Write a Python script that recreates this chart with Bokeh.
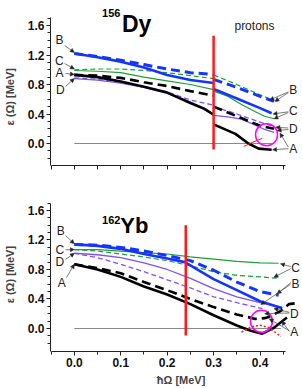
import math
from bokeh.plotting import figure
from bokeh.models import Label, Arrow, NormalHead, FixedTicker, Range1d, PrintfTickFormatter
from bokeh.layouts import column
from bokeh.embed import file_html
from bokeh.resources import INLINE

nan = float("nan")

# ---------------- 156Dy (top panel) ----------------
dy_red_x = 0.30
dy_red_y = [-0.08, 1.46]

dy_B_dash_x = [0.0, 0.05, 0.10, 0.15, 0.20, 0.25, 0.30, nan, 0.30, 0.35, 0.40, 0.43]
dy_B_dash_y = [1.22, 1.18, 1.13, 1.07, 1.01, 0.96, 0.935, nan, 0.87, 0.76, 0.64, 0.57]
dy_B_sol_x = [0.0, 0.05, 0.10, 0.15, 0.20, 0.25, 0.30, nan, 0.30, 0.35, 0.40, 0.425]
dy_B_sol_y = [1.22, 1.17, 1.11, 1.03, 0.93, 0.86, 0.82, nan, 0.74, 0.61, 0.48, 0.41]
dy_C_dash_x = [0.0, 0.05, 0.10, 0.15, 0.20, 0.25, 0.30, nan, 0.30, 0.35, 0.40, 0.427]
dy_C_dash_y = [1.00, 1.01, 1.01, 0.99, 0.96, 0.92, 0.88, nan, 0.93, 0.80, 0.66, 0.59]
dy_C_sol_x = [0.0, 0.05, 0.10, 0.15, 0.20, 0.25, 0.30, nan, 0.30, 0.33, 0.36, 0.39, 0.41, 0.43]
dy_C_sol_y = [0.99, 0.98, 0.96, 0.90, 0.85, 0.80, 0.73, nan, 0.71, 0.64, 0.53, 0.43, 0.37, 0.335]
dy_A_dash_x = [0.0, 0.05, 0.10, 0.15, 0.20, 0.25, 0.30, nan, 0.30, 0.35, 0.40, 0.43]
dy_A_dash_y = [0.93, 0.92, 0.89, 0.83, 0.78, 0.71, 0.65, nan, 0.50, 0.37, 0.24, 0.20]
dy_A_sol_x = [0.0, 0.05, 0.10, 0.15, 0.20, 0.25, 0.28, 0.30, nan, 0.30, 0.347, 0.375, 0.397, 0.425]
dy_A_sol_y = [0.93, 0.90, 0.84, 0.77, 0.69, 0.55, 0.47, 0.39, nan, 0.26, 0.13, 0.0, -0.07, -0.085]
dy_D_sol_x = [0.0, 0.05, 0.10, 0.15, 0.20, 0.25, 0.28, 0.30, nan, 0.30, 0.33, 0.36, 0.39, 0.41, 0.43]
dy_D_sol_y = [0.88, 0.86, 0.82, 0.76, 0.68, 0.56, 0.48, 0.40, nan, 0.38, 0.36, 0.33, 0.25, 0.19, 0.15]
dy_D_dash_x = [0.0, 0.05, 0.10, 0.15, 0.20, 0.25, 0.30, nan, 0.30, 0.35, 0.40, 0.43]
dy_D_dash_y = [0.89, 0.87, 0.83, 0.77, 0.70, 0.59, 0.52, nan, 0.50, 0.40, 0.29, 0.23]
dy_red_arc_x = [0.365, 0.385, 0.405]
dy_red_arc_y = [-0.04, 0.02, 0.07]
dy_circle = (0.414, 0.12)
dy_zero_x = [0.0, 0.43]

# ---------------- 162Yb (bottom panel) ----------------
yb_red_x = 0.24
yb_red_y = [-0.095, 1.40]
yb_x = [0.0, 0.05, 0.10, 0.15, 0.20, 0.25, 0.30, 0.35, 0.40, 0.44]
yb_B_dash_y = [1.14, 1.13, 1.10, 1.05, 0.99, 0.92, 0.79, 0.63, 0.50, 0.45]
yb_B_sol_x = [0.0, 0.05, 0.10, 0.15, 0.20, 0.238, 0.30, 0.35, 0.40, 0.448]
yb_B_sol_y = [1.14, 1.12, 1.08, 1.01, 0.95, 0.90, 0.67, 0.52, 0.37, 0.275]
yb_C_sol_y = [1.07, 1.07, 1.05, 1.03, 1.01, 0.97, 0.94, 0.91, 0.89, 0.885]
yb_C_dash_y = [1.07, 1.05, 1.01, 0.97, 0.92, 0.85, 0.77, 0.72, 0.70, 0.68]
yb_D_sol_x = [0.0, 0.05, 0.10, 0.15, 0.20, 0.25, 0.30, 0.35, 0.40, 0.447]
yb_D_sol_y = [1.02, 1.00, 0.96, 0.89, 0.80, 0.68, 0.54, 0.43, 0.35, 0.29]
yb_D_dash_x = [0.0, 0.05, 0.10, 0.15, 0.20, 0.25, 0.30, 0.35, 0.405]
yb_D_dash_y = [1.02, 0.96, 0.87, 0.77, 0.66, 0.55, 0.43, 0.35, 0.27]
yb_A_dash_x = [0.0, 0.05, 0.10, 0.15, 0.20, 0.25, 0.30, 0.35, 0.39, 0.41, 0.42, 0.445, 0.462, 0.485]
yb_A_dash_y = [0.87, 0.82, 0.75, 0.63, 0.52, 0.40, 0.29, 0.19, 0.13, 0.14, 0.16, 0.24, 0.33, 0.35]
yb_A_sol_x = [0.0, 0.05, 0.10, 0.15, 0.20, 0.25, 0.30, 0.35, 0.38, 0.405, 0.43, 0.458]
yb_A_sol_y = [0.87, 0.80, 0.70, 0.57, 0.46, 0.33, 0.18, 0.04, -0.03, -0.07, 0.01, 0.15]
yb_red_arc_x = [0.36, 0.38, 0.40, 0.42, 0.445]
yb_red_arc_y = [-0.05, 0.02, 0.045, 0.01, -0.11]
yb_circle = (0.403, 0.097)
yb_zero_x = [0.0, 0.445]

x_ticks = [0.0, 0.1, 0.2, 0.3, 0.4]
x_minor = [-0.05, 0.05, 0.15, 0.25, 0.35, 0.45]
y_ticks = [0.0, 0.4, 0.8, 1.2, 1.6]
y_minor = [round(-0.2 + 0.1 * i, 2) for i in range(20)]

BLUE = "#1434ff"
GREEN = "#1f9e3a"
PURPLE = "#7f52f2"
RED = "#ff1a1a"
MAG = "#ff00ff"
FONT = "Liberation Sans"
NBSP = "\u00a0"

X_RANGE = (-0.05128, 0.49145)
X_BOUNDS = (-0.05, 0.455)


def base_fig(height, border_bottom, y_range, y_bounds, top_panel, ylab_pad):
    p = figure(width=302, height=height, x_range=Range1d(*X_RANGE), y_range=Range1d(*y_range),
               output_backend="svg", toolbar_location=None,
               min_border_left=48, min_border_right=0,
               min_border_top=0, min_border_bottom=border_bottom)
    p.outline_line_color = None
    p.grid.visible = False
    p.background_fill_color = "white"
    p.border_fill_color = "white"
    for ax in (p.xaxis[0], p.yaxis[0]):
        ax.axis_line_color = "#222222"
        ax.major_tick_line_color = "#222222"
        ax.minor_tick_line_color = "#222222"
        ax.major_tick_in = 0
        ax.major_tick_out = 4
        ax.minor_tick_in = 0
        ax.minor_tick_out = 3
        ax.major_label_text_font = FONT
        ax.major_label_text_font_style = "bold"
        ax.major_label_text_font_size = "12px"
        ax.major_label_text_color = "#111111"
        ax.major_label_standoff = 2
        ax.formatter = PrintfTickFormatter(format="%.1f")
    p.yaxis[0].ticker = FixedTicker(ticks=y_ticks, minor_ticks=y_minor)
    p.xaxis[0].bounds = X_BOUNDS
    p.yaxis[0].bounds = y_bounds
    if top_panel:
        # tick marks only, no tick labels on the upper panel
        p.xaxis[0].ticker = FixedTicker(ticks=[], minor_ticks=sorted(x_ticks + x_minor))
        p.xaxis[0].minor_tick_out = 4
    else:
        p.xaxis[0].ticker = FixedTicker(ticks=x_ticks, minor_ticks=x_minor)
        p.xaxis[0].major_label_standoff = 2
        p.xaxis[0].axis_label = NBSP * 4 + "ħΩ  [MeV]"
        p.xaxis[0].axis_label_text_font = FONT
        p.xaxis[0].axis_label_text_font_style = "bold"
        p.xaxis[0].axis_label_text_font_size = "11px"
        p.xaxis[0].axis_label_standoff = 4
    p.yaxis[0].axis_label = "ε (Ω) [MeV]" + NBSP * ylab_pad
    p.yaxis[0].axis_label_text_font = FONT
    p.yaxis[0].axis_label_text_font_style = "bold"
    p.yaxis[0].axis_label_text_font_size = "11px"
    p.yaxis[0].axis_label_standoff = 9
    return p


def label(p, x, y, text, size="12px", style="normal", align="center", baseline="middle", color="#222222"):
    p.add_layout(Label(x=x, y=y, text=text, text_font=FONT, text_font_size=size,
                       text_font_style=style, text_align=align, text_baseline=baseline,
                       text_color=color))


def arrow(p, x0, y0, x1, y1):
    p.add_layout(Arrow(end=NormalHead(size=4, fill_color="#222222", line_color="#222222", line_width=0.5),
                       x_start=x0, y_start=y0, x_end=x1, y_end=y1,
                       line_color="#444444", line_width=0.7))


# ---------------- top figure ----------------
p1 = base_fig(185, 20, (-0.2983, 1.939), (-0.2983, 1.708), True, 9)
p1.line(dy_zero_x, [0, 0], line_color="#888888", line_width=1)
p1.line(dy_C_sol_x, dy_C_sol_y, line_color=GREEN, line_width=1.2)
p1.line(dy_C_dash_x, dy_C_dash_y, line_color=GREEN, line_width=1.2, line_dash="5 3")
p1.line(dy_D_sol_x, dy_D_sol_y, line_color=PURPLE, line_width=1.3)
p1.line(dy_D_dash_x, dy_D_dash_y, line_color=PURPLE, line_width=1.3, line_dash="5 3")
p1.line(dy_B_sol_x, dy_B_sol_y, line_color=BLUE, line_width=2.6)
p1.line(dy_B_dash_x, dy_B_dash_y, line_color=BLUE, line_width=3, line_dash="9 5")
p1.line(dy_A_sol_x, dy_A_sol_y, line_color="black", line_width=2.6)
p1.line(dy_A_dash_x, dy_A_dash_y, line_color="black", line_width=2.6, line_dash="9 5")
p1.line(dy_red_arc_x, dy_red_arc_y, line_color=RED, line_width=1)
p1.segment(x0=[dy_red_x], y0=[dy_red_y[0]], x1=[dy_red_x], y1=[dy_red_y[1]], line_color=RED, line_width=2.5)
p1.scatter([dy_circle[0]], [dy_circle[1]], marker="circle", size=22, fill_color=None,
           line_color=MAG, line_width=1.5)

label(p1, 0.0598, 1.776, "156", size="11px", style="bold", align="left", baseline="alphabetic", color="black")
label(p1, 0.1026, 1.623, "Dy", size="23px", style="bold", align="left", baseline="alphabetic", color="black")
label(p1, 0.388, 1.60, "protons", size="12px")

# left letters
label(p1, -0.032, 1.397, "B")
label(p1, -0.032, 1.125, "C")
label(p1, -0.032, 0.95, "A")
label(p1, -0.030, 0.72, "D")
arrow(p1, -0.021, 1.33, 0.0, 1.235)
arrow(p1, -0.021, 1.085, 0.0, 1.01)
arrow(p1, -0.019, 0.95, 0.0, 0.935)
arrow(p1, -0.019, 0.773, 0.0, 0.88)
# right letters
label(p1, 0.4716, 0.72, "B")
label(p1, 0.4716, 0.447, "C")
label(p1, 0.4716, 0.20, "D")
label(p1, 0.4716, -0.072, "A")
arrow(p1, 0.461, 0.70, 0.421, 0.59)
arrow(p1, 0.461, 0.69, 0.432, 0.57)
arrow(p1, 0.461, 0.43, 0.428, 0.40)
arrow(p1, 0.461, 0.42, 0.43, 0.335)
arrow(p1, 0.461, 0.21, 0.434, 0.22)
arrow(p1, 0.461, 0.19, 0.437, 0.176)
arrow(p1, 0.461, -0.07, 0.427, -0.085)
arrow(p1, 0.461, -0.05, 0.443, 0.14)

# ---------------- bottom figure ----------------
p2 = base_fig(203, 37, (-0.312, 1.939), (-0.312, 1.695), False, 4)
p2.line(yb_zero_x, [0, 0], line_color="#888888", line_width=1)
p2.line(yb_x, yb_C_sol_y, line_color=GREEN, line_width=1.2)
p2.line(yb_x, yb_C_dash_y, line_color=GREEN, line_width=1.2, line_dash="5 3")
p2.line(yb_D_sol_x, yb_D_sol_y, line_color=PURPLE, line_width=1.3)
p2.line(yb_D_dash_x, yb_D_dash_y, line_color=PURPLE, line_width=1.3, line_dash="5 3")
p2.line(yb_B_sol_x, yb_B_sol_y, line_color=BLUE, line_width=2.6)
p2.line(yb_x, yb_B_dash_y, line_color=BLUE, line_width=3, line_dash="9 5")
p2.line(yb_A_sol_x, yb_A_sol_y, line_color="black", line_width=2.6)
p2.line(yb_A_dash_x, yb_A_dash_y, line_color="black", line_width=2.6, line_dash="9 5")
p2.line(yb_red_arc_x, yb_red_arc_y, line_color=RED, line_width=1.5, line_dash="2 2")
p2.segment(x0=[yb_red_x], y0=[yb_red_y[0]], x1=[yb_red_x], y1=[yb_red_y[1]], line_color=RED, line_width=2.5)
p2.scatter([yb_circle[0]], [yb_circle[1]], marker="circle", size=22, fill_color=None,
           line_color=MAG, line_width=1.5)

label(p2, 0.0598, 1.474, "162", size="11px", style="bold", align="left", baseline="alphabetic", color="black")
label(p2, 0.099, 1.397, "Yb", size="22px", style="bold", align="left", baseline="alphabetic", color="black")

label(p2, -0.029, 1.32, "B")
label(p2, -0.031, 1.067, "C")
label(p2, -0.031, 0.90, "D")
label(p2, -0.027, 0.614, "A")
arrow(p2, -0.019, 1.26, 0.0, 1.15)
arrow(p2, -0.019, 1.067, 0.0, 1.07)
arrow(p2, -0.019, 0.935, 0.0, 1.02)
arrow(p2, -0.017, 0.69, 0.0, 0.87)

label(p2, 0.4765, 0.823, "C")
label(p2, 0.4765, 0.606, "B")
label(p2, 0.4737, 0.20, "D")
label(p2, 0.4737, -0.05, "A")
arrow(p2, 0.466, 0.84, 0.444, 0.877)
arrow(p2, 0.466, 0.81, 0.43, 0.696)
arrow(p2, 0.466, 0.62, 0.437, 0.47)
arrow(p2, 0.466, 0.60, 0.402, 0.325)
arrow(p2, 0.463, 0.21, 0.41, 0.20)
arrow(p2, 0.463, 0.22, 0.43, 0.27)
arrow(p2, 0.463, -0.03, 0.42, 0.13)
arrow(p2, 0.463, -0.04, 0.447, 0.10)

layout = column(p1, p2, spacing=0)
open("out.html", "w").write(file_html(layout, INLINE))
